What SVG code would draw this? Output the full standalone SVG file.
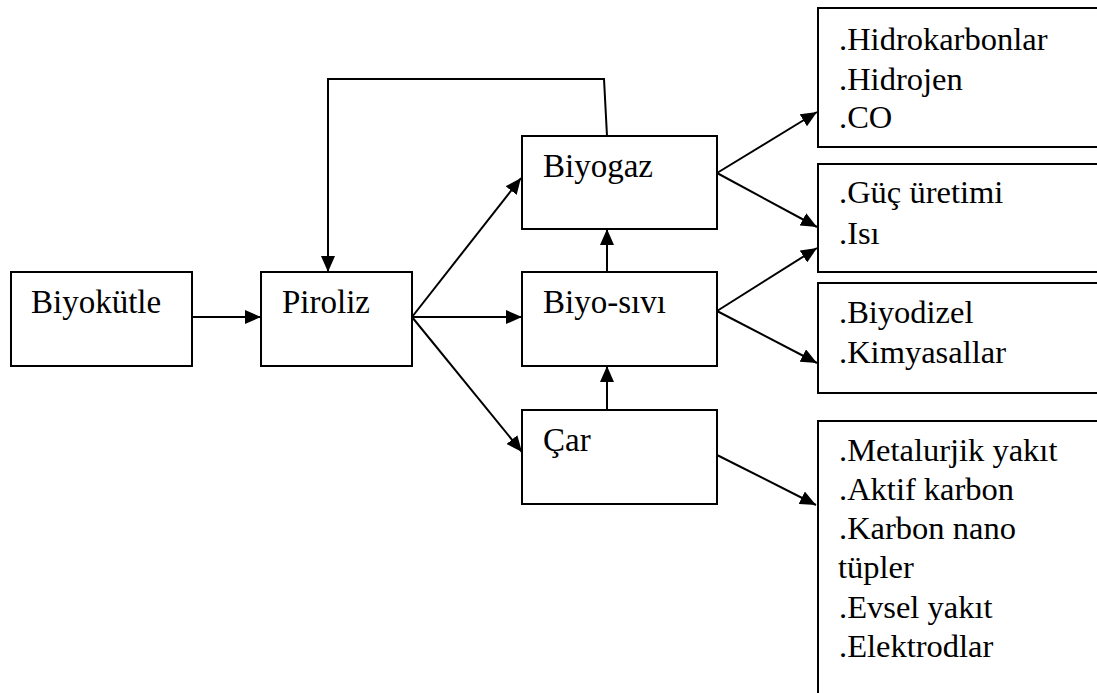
<svg xmlns="http://www.w3.org/2000/svg" width="1097" height="693" viewBox="0 0 1097 693">
<style>
.box{fill:#fff;stroke:#000;stroke-width:2}
.t{font-family:'Liberation Serif','Times New Roman',serif;font-size:33px;fill:#000}
.r{font-family:'Liberation Serif','Times New Roman',serif;font-size:32.5px;fill:#000}
.c{fill:none;stroke:#000;stroke-width:2}
</style>
<defs>
<marker id="ah" markerUnits="userSpaceOnUse" markerWidth="16" markerHeight="14" viewBox="0 0 16 14" refX="16" refY="7" orient="auto">
<path d="M0,0 L16,7 L0,14 Z" fill="#000"/>
</marker>
</defs>
<rect width="1097" height="693" fill="#fff"/>
<g id="n-biyokutle"><rect class="box" x="11" y="272" width="181" height="94"/><text class="t" x="31" y="313">Biyokütle</text></g>
<g id="n-piroliz"><rect class="box" x="261" y="272" width="151" height="94"/><text class="t" x="282" y="313">Piroliz</text></g>
<g id="n-biyogaz"><rect class="box" x="522" y="136" width="195" height="93"/><text class="t" x="543" y="177">Biyogaz</text></g>
<g id="n-biyosivi"><rect class="box" x="522" y="272" width="195" height="94"/><text class="t" x="543" y="313">Biyo-sıvı</text></g>
<g id="n-car"><rect class="box" x="522" y="410" width="195" height="94"/><text class="t" x="543" y="451">Çar</text></g>
<g id="n-gaz-urunler"><rect class="box" x="818" y="8" width="290" height="139"/>
<text class="r" x="839" y="50">.Hidrokarbonlar</text><text class="r" x="839" y="90">.Hidrojen</text><text class="r" x="839" y="128">.CO</text></g>
<g id="n-enerji"><rect class="box" x="818" y="164" width="290" height="108"/>
<text class="r" x="839" y="203">.Güç üretimi</text><text class="r" x="839" y="244">.Isı</text></g>
<g id="n-sivi-urunler"><rect class="box" x="818" y="283" width="290" height="110"/>
<text class="r" x="839" y="323">.Biyodizel</text><text class="r" x="839" y="363">.Kimyasallar</text></g>
<g id="n-car-urunler"><rect class="box" x="818" y="421" width="290" height="300"/>
<text class="r" x="839" y="461">.Metalurjik yakıt</text><text class="r" x="839" y="500">.Aktif karbon</text><text class="r" x="839" y="539">.Karbon nano</text><text class="r" x="838" y="578">tüpler</text><text class="r" x="839" y="618">.Evsel yakıt</text><text class="r" x="839" y="657">.Elektrodlar</text></g>
<g id="connectors">
<line class="c" x1="192" y1="317" x2="261" y2="317" marker-end="url(#ah)"/>
<line class="c" x1="412" y1="317" x2="522" y2="317" marker-end="url(#ah)"/>
<line class="c" x1="412" y1="317" x2="521" y2="178" marker-end="url(#ah)"/>
<line class="c" x1="412" y1="317" x2="522" y2="452" marker-end="url(#ah)"/>
<line class="c" x1="607" y1="272" x2="607" y2="229" marker-end="url(#ah)"/>
<line class="c" x1="607" y1="410" x2="607" y2="366" marker-end="url(#ah)"/>
<polyline class="c" points="607,136 604,79 328,79 328,272" marker-end="url(#ah)"/>
<line class="c" x1="717" y1="173" x2="817" y2="112" marker-end="url(#ah)"/>
<line class="c" x1="717" y1="173" x2="817" y2="227" marker-end="url(#ah)"/>
<line class="c" x1="717" y1="311" x2="817" y2="248" marker-end="url(#ah)"/>
<line class="c" x1="717" y1="311" x2="817" y2="363" marker-end="url(#ah)"/>
<line class="c" x1="717" y1="455" x2="816" y2="505" marker-end="url(#ah)"/>
</g>
</svg>
